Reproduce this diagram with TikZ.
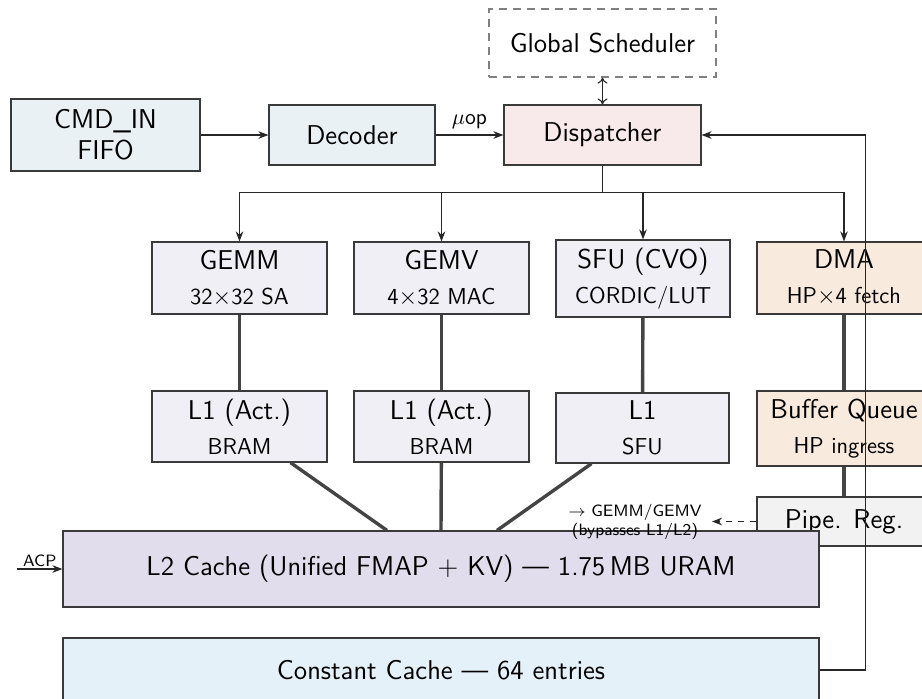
\documentclass[tikz,border=0pt]{standalone}
\usepackage{fontspec}
\usetikzlibrary{arrows.meta,calc}

\definecolor{cmdfill}{HTML}{E9F1F5}
\definecolor{dispfill}{HTML}{F8EAEA}
\definecolor{unitfill}{HTML}{F0EFF5}
\definecolor{dmafill}{HTML}{F8EADC}
\definecolor{pipefill}{HTML}{F2F2F2}
\definecolor{ltwofill}{HTML}{E1DDEC}
\definecolor{ccfill}{HTML}{E5F1F9}
\definecolor{edgec}{HTML}{3A3A3A}
\definecolor{linkc}{HTML}{444444}

\newcommand{\mainsz}{\fontsize{13.6}{17.5}\selectfont}
\newcommand{\subsz}{\fontsize{11.5}{13.5}\selectfont}
\newcommand{\tinysz}{\fontsize{8.2}{9.6}\selectfont}

\begin{document}
\begin{tikzpicture}[x=0.5pt,y=-0.5pt,
  unit/.style={draw=edgec, line width=0.6pt, inner sep=0pt, align=center,
               font=\sffamily\mainsz},
  arr/.style={draw=black!85, line width=0.55pt, -{Stealth[length=5pt,width=3.8pt]}},
  plain/.style={draw=black!85, line width=0.55pt},
  link/.style={draw=linkc, line width=1.7pt},
  note/.style={font=\sffamily\tinysz, align=center, inner sep=0pt}]

\useasboundingbox (0,0) rectangle (922,698);
\clip (0,0) rectangle (922,698);

% front end
\node[unit, draw=black!50, dash pattern=on 4pt off 3pt, minimum width=113.5pt, minimum height=34pt]
  (gs) at (602.5,43) {Global Scheduler};
\node[unit, fill=cmdfill, minimum width=94.5pt, minimum height=36pt]
  (cmd) at (105.5,135) {CMD\_IN\\[-2pt]FIFO};
\node[unit, fill=cmdfill, minimum width=83pt, minimum height=30pt]
  (dec) at (352,135) {Decoder};
\node[unit, fill=dispfill, minimum width=98.5pt, minimum height=30pt]
  (disp) at (602.5,135) {Dispatcher};

% compute units
\node[unit, fill=unitfill, minimum width=87.5pt, minimum height=36pt]
  (gemm) at (239.5,278) {GEMM\\{\subsz 32$\times$32 SA}};
\node[unit, fill=unitfill, minimum width=87.5pt, minimum height=36pt]
  (gemv) at (441.5,278) {GEMV\\{\subsz 4$\times$32 MAC}};
\node[unit, fill=unitfill, minimum width=87pt, minimum height=38.5pt]
  (sfu) at (643,278.5) {SFU (CVO)\\{\subsz CORDIC/LUT}};
\node[unit, fill=dmafill, minimum width=87pt, minimum height=36pt]
  (dma) at (844,278) {DMA\\{\subsz HP$\times$4 fetch}};

% local buffers
\node[unit, fill=unitfill, minimum width=87.5pt, minimum height=35.5pt]
  (l1a) at (239.5,426.5) {L1 (Act.)\\{\subsz BRAM}};
\node[unit, fill=unitfill, minimum width=87.5pt, minimum height=35.5pt]
  (l1b) at (441.5,426.5) {L1 (Act.)\\{\subsz BRAM}};
\node[unit, fill=unitfill, minimum width=86.5pt, minimum height=35pt]
  (l1c) at (642.5,428) {L1\\{\subsz SFU}};
\node[unit, fill=dmafill, minimum width=87pt, minimum height=37.5pt]
  (bq) at (844,428.5) {Buffer Queue\\{\subsz HP ingress}};
\node[unit, fill=pipefill, minimum width=87pt, minimum height=24.5pt]
  (pipe) at (844,521.5) {Pipe. Reg.};

% shared memories
\node[unit, fill=ltwofill, minimum width=378pt, minimum height=38pt]
  (l2) at (441,569) {L2 Cache (Unified FMAP + KV) --- 1.75\,MB URAM};
\node[unit, fill=ccfill, minimum width=378pt, minimum height=32pt]
  (cc) at (441,670) {Constant Cache --- 64 entries};

% control path
\draw[arr] (cmd) -- (dec);
\draw[arr] (dec) -- (disp) node[midway, above=3pt, inner sep=0pt, font=\sffamily\fontsize{11}{13}\selectfont] (uop) {$\mu$op};
\draw[plain, {To[length=3pt,width=5pt]}-{To[length=3pt,width=5pt]}] (gs) -- (disp);
\coordinate (bus) at ($(disp.south)+(0,27)$);
\draw[plain] (disp.south) -- (bus);
\foreach \t in {gemm,gemv,sfu,dma}
  \draw[arr] (bus) -| (\t.north);

% datapath links
\draw[link] (gemm) -- (l1a);
\draw[link] (gemv) -- (l1b);
\draw[link] (sfu) -- (l1c);
\draw[link] (dma) -- (bq);
\draw[link] (bq) -- (pipe);
\draw[link] ([xshift=25.5pt]l1a.south) -- ([xshift=-27pt]l2.north);
\draw[link] (l1b) -- (l2.north);
\draw[link] ([xshift=-25.5pt]l1c.south) -- ([xshift=28pt]l2.north);

% bypass to the compute units
\coordinate (bypend) at (712,521.5);
\draw[arr, dash pattern=on 3pt off 3pt] (pipe.west) -- (bypend);
\node[note] (byp) at (635,521.5) {$\rightarrow$ GEMM/GEMV\\(bypasses L1/L2)};

% ACP port into L2
\coordinate (acpin) at (17,569);
\draw[arr] (acpin) -- (l2.west) node[midway, above=1pt, inner sep=0pt, font=\sffamily\tinysz] (acp) {ACP};

% constant-cache feedback into the dispatcher
\draw[arr] (cc.east) -- ++(46,0) |- (disp.east);
\end{tikzpicture}
\end{document}
